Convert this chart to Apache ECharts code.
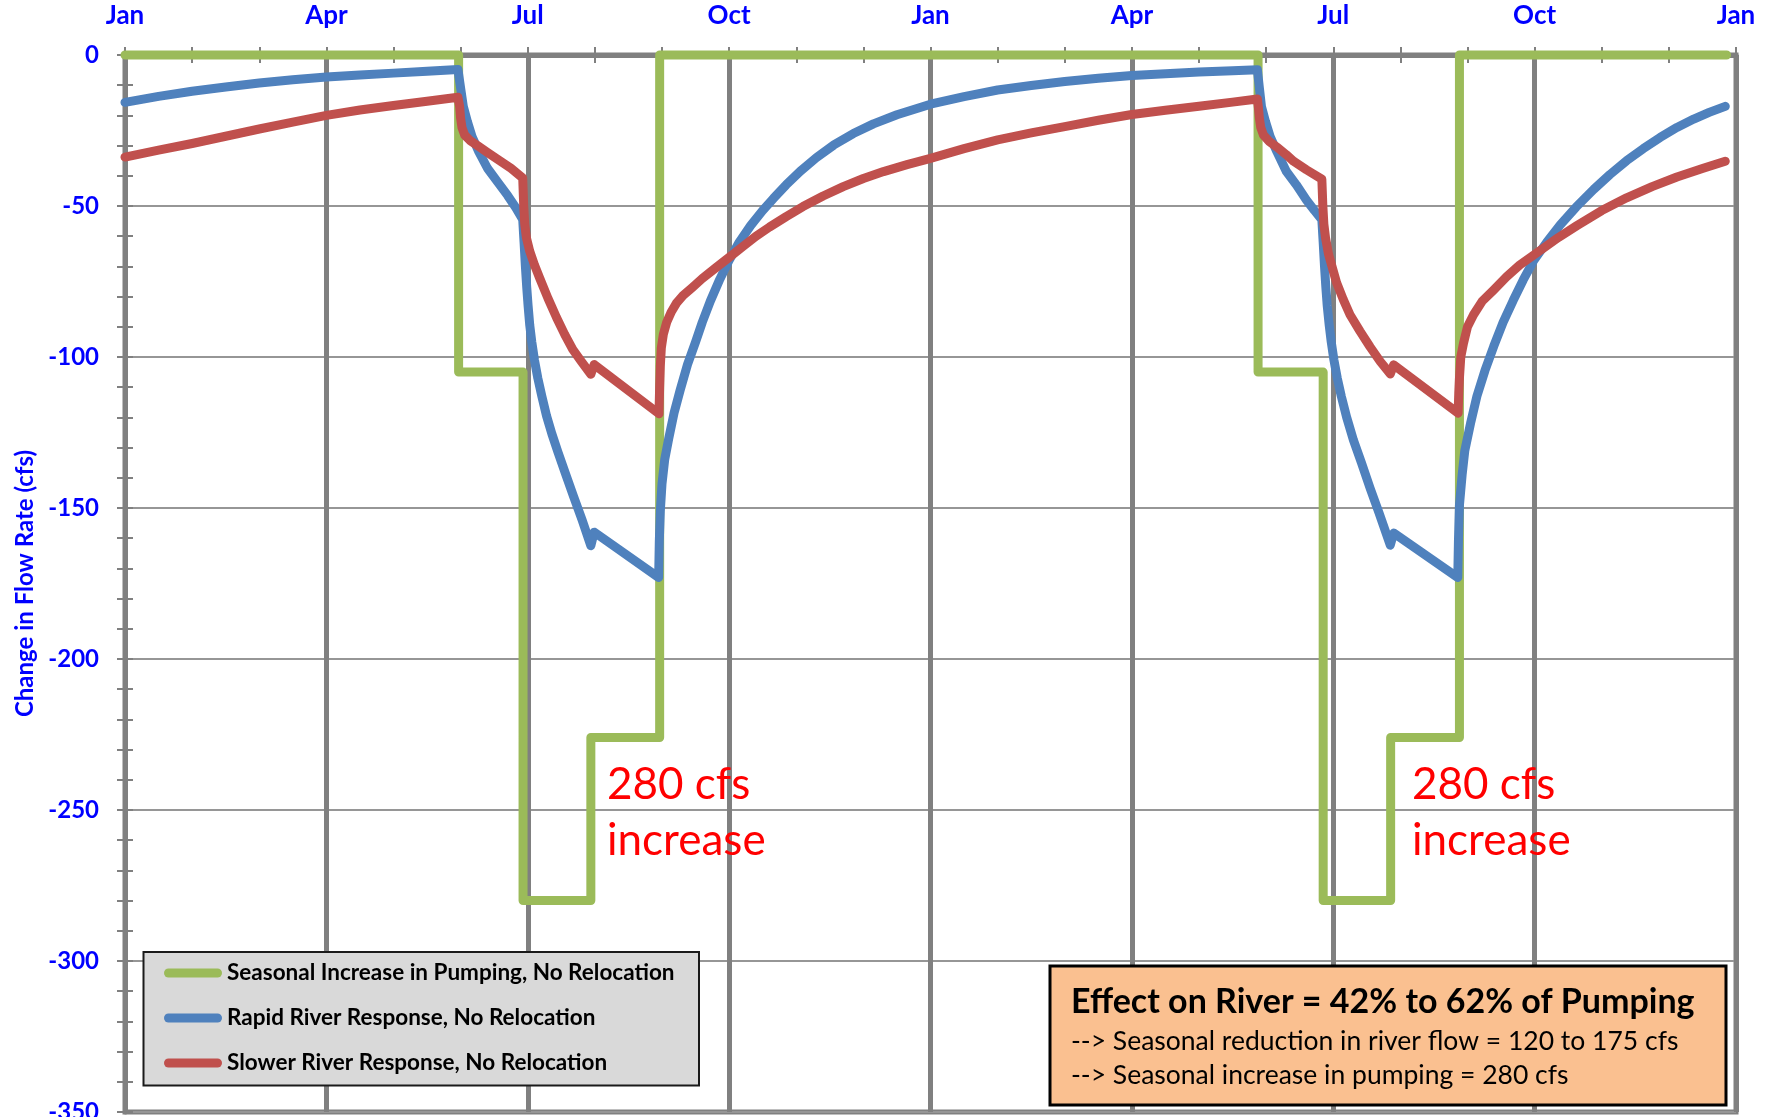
<!DOCTYPE html>
<html><head><meta charset="utf-8">
<script src="https://cdn.jsdelivr.net/npm/echarts@6/dist/echarts.min.js"></script>
<style>html,body{margin:0;padding:0;background:#fff;overflow:hidden}#c{width:1771px;height:1117px}</style>
</head><body><div id="c"></div>
<script>
// x values are months since the first January (0..24)
const tickLabels = ['Jan','Apr','Jul','Oct','Jan','Apr','Jul','Oct','Jan'];
const seriesNames = ['Seasonal Increase in Pumping, No Relocation','Rapid River Response, No Relocation','Slower River Response, No Relocation'];

const pumpingData = [
  [0,0],[4.97,0],[4.97,-105],[5.93,-105],[5.93,-280],[6.94,-280],[6.94,-226],[7.965,-226],[7.965,0],
  [16.88,0],[16.88,-105],[17.85,-105],[17.85,-280],[18.855,-280],[18.855,-226],[19.88,-226],[19.88,0],[23.86,0]
];

const rapidData = [
  [0,-15.7],[0.5,-13.7],[1,-12.0],[1.5,-10.6],[2,-9.3],[2.5,-8.2],[3,-7.3],[3.5,-6.6],[4,-6.0],[4.5,-5.4],[4.96,-4.8],
  [5.0,-11],[5.04,-17],[5.1,-22],[5.17,-27],[5.27,-32],[5.4,-37.5],[5.55,-42],[5.7,-46.5],[5.82,-50.5],[5.925,-54.5],
  [5.945,-62],[5.965,-70],[5.985,-77],[6.005,-83],[6.03,-89.5],[6.06,-95],[6.1,-101],[6.15,-107],[6.21,-113],[6.28,-119.5],[6.36,-125.5],[6.45,-131.5],[6.56,-138.5],[6.68,-146],[6.81,-154],[6.94,-162.5],
  [6.99,-158],[7.95,-173],
  [7.96,-161],[7.975,-151],[8.0,-142],[8.04,-134],[8.1,-127],[8.18,-118.5],[8.27,-111],[8.38,-102.5],[8.5,-95],[8.6,-88.5],[8.72,-81.5],[8.86,-74.3],[9.0,-68],[9.15,-62],[9.32,-56.5],[9.5,-51.5],[9.66,-47.5],[9.85,-43],[10.06,-38.5],[10.3,-34],[10.56,-29.8],[10.85,-26],[11.15,-22.8],[11.5,-19.8],[12.0,-16.3],
  [12.5,-13.8],[13,-11.6],[13.5,-10.1],[14,-8.8],[14.5,-7.7],[15,-6.8],[15.5,-6.2],[16,-5.6],[16.5,-5.2],[16.87,-4.9],
  [16.9,-11],[16.93,-17],[16.99,-22],[17.06,-27],[17.16,-32],[17.3,-38.5],[17.45,-43],[17.6,-48],[17.72,-51.5],[17.83,-54.5],
  [17.85,-62],[17.87,-70],[17.89,-77],[17.91,-83],[17.94,-89.5],[17.97,-95],[18.01,-101],[18.06,-107],[18.12,-113],[18.2,-120],[18.3,-127.5],[18.42,-135],[18.55,-143.5],[18.68,-151.5],[18.85,-162.3],
  [18.9,-158.3],[19.855,-173],
  [19.865,-161],[19.88,-149],[19.92,-139],[19.96,-131],[20.05,-121.5],[20.14,-113],[20.26,-104.5],[20.39,-96.5],[20.53,-88.5],[20.68,-81.3],[20.83,-74.5],[20.98,-68.3],[21.18,-62],[21.38,-56.3],[21.62,-50.3],[21.88,-44.5],[22.12,-39.6],[22.37,-35],[22.62,-31],[22.87,-27.3],[23.12,-24],[23.37,-21.2],[23.6,-19],[23.84,-17]
];

const slowerData = [
  [0,-33.8],[0.5,-31.5],[1,-29.3],[1.5,-26.9],[2,-24.5],[2.5,-22.2],[3,-20.0],[3.5,-18.2],[4,-16.7],[4.5,-15.3],[4.96,-14.0],
  [4.985,-17],[5.0,-21],[5.02,-24],[5.06,-26.5],[5.15,-28.5],[5.25,-30],[5.4,-32.3],[5.55,-34.5],[5.75,-37.5],[5.925,-40.7],
  [5.94,-50],[5.955,-56],[5.98,-60.5],[6.03,-65],[6.1,-69.5],[6.18,-74],[6.3,-80.5],[6.43,-87],[6.55,-92.5],[6.67,-97.5],[6.8,-101.5],[6.94,-105.7],
  [6.99,-102.5],[7.955,-118.8],
  [7.965,-110],[7.975,-103],[7.99,-97],[8.02,-92.5],[8.07,-88.5],[8.14,-85],[8.22,-82],[8.32,-79.5],[8.45,-77],[8.6,-74],[8.8,-70.5],[9.0,-67],[9.2,-63.5],[9.4,-60],[9.6,-57],[9.85,-53.5],[10.1,-50.2],[10.4,-46.7],[10.7,-43.6],[11.0,-40.9],[11.3,-38.6],[11.65,-36.3],[12,-34.2],
  [12.5,-31],[13,-28.1],[13.5,-25.8],[14,-23.7],[14.5,-21.6],[15,-19.7],[15.5,-18.3],[16,-17.0],[16.5,-15.6],[16.87,-14.6],
  [16.885,-17.5],[16.9,-21],[16.92,-24],[16.96,-26.5],[17.04,-28.5],[17.16,-30.5],[17.3,-33],[17.41,-35.2],[17.6,-38],[17.83,-41.1],
  [17.845,-50],[17.86,-56],[17.885,-60.5],[17.93,-66],[18.05,-75.4],[18.15,-81],[18.25,-86],[18.4,-91.5],[18.55,-96.7],[18.7,-101.5],[18.85,-105.6],
  [18.9,-102.6],[19.86,-118.6],
  [19.87,-112],[19.88,-107],[19.9,-100],[19.94,-95.5],[20.0,-90],[20.09,-86],[20.22,-81.5],[20.39,-77.8],[20.58,-73.5],[20.78,-69.5],[21.08,-64.8],[21.35,-60.5],[21.63,-56.5],[22.0,-51.5],[22.37,-47.3],[22.75,-43.6],[23.12,-40.4],[23.5,-37.6],[23.84,-35.2]
];

const colors = ['#9BBB59','#4F81BD','#C0504D'];
const annotationLines = ['280 cfs','increase'];
const boxTitle = 'Effect on River = 42% to 62% of Pumping';
const boxLines = ['--> Seasonal reduction in river flow = 120 to 175 cfs','--> Seasonal increase in pumping = 280 cfs'];

const chart = echarts.init(document.getElementById('c'), null, {renderer:'canvas', width:1771, height:1117});
const FONT = 'Lato';
const AXIS_BLUE = '#0000FF';
const GRAYDARK = '#808080';

function mkSeries(name, data, color){
  return {
    name, type:'line', data, xAxisIndex:0, yAxisIndex:0,
    showSymbol:false, symbol:'none', clip:false, animation:false,
    lineStyle:{color, width:9, cap:'round', join:'round'},
    itemStyle:{color}
  };
}

const option = {
  animation:false,
  color: colors,
  grid:{left:125, top:55, right:35, bottom:5, containLabel:false, outerBoundsMode:'none',
    show:true, borderColor:GRAYDARK, borderWidth:5, backgroundColor:'transparent'},
  xAxis:[{
    type:'value', position:'top', min:0, max:24, interval:3,
    axisLine:{show:true, onZero:false, lineStyle:{color:GRAYDARK, width:5}},
    axisTick:{show:true, inside:false, length:8, lineStyle:{color:GRAYDARK, width:2}},
    minorTick:{show:true, splitNumber:3, length:8, lineStyle:{color:GRAYDARK, width:2}},
    axisLabel:{show:true, margin:26, color:AXIS_BLUE, fontWeight:'bold', fontSize:26, fontFamily:FONT,
      showMinLabel:true, showMaxLabel:true,
      formatter:(v)=>tickLabels[Math.round(v/3)]},
    splitLine:{show:true, lineStyle:{color:GRAYDARK, width:5}}
  },{
    type:'value', position:'top', min:0, max:24, interval:3,
    axisLine:{show:false}, axisLabel:{show:false}, splitLine:{show:false},
    axisTick:{show:true, inside:true, length:8, lineStyle:{color:GRAYDARK, width:2}},
    minorTick:{show:true, splitNumber:3, length:8, lineStyle:{color:GRAYDARK, width:2}}
  }],
  yAxis:[{
    type:'value', position:'left', min:-350, max:0, interval:50,
    name:'Change in Flow Rate (cfs)', nameLocation:'middle', nameRotate:90, nameGap:87,
    nameTextStyle:{color:AXIS_BLUE, fontWeight:'bold', fontSize:24, fontFamily:FONT},
    axisLine:{show:true, onZero:false, lineStyle:{color:GRAYDARK, width:5}},
    axisTick:{show:true, inside:false, length:8, lineStyle:{color:GRAYDARK, width:2}},
    minorTick:{show:true, splitNumber:5, length:8, lineStyle:{color:GRAYDARK, width:2}},
    axisLabel:{margin:26, color:AXIS_BLUE, fontWeight:'bold', fontSize:24, fontFamily:FONT, showMinLabel:true, showMaxLabel:true},
    splitLine:{show:true, lineStyle:{color:'#969696', width:2}}
  },{
    type:'value', position:'left', min:-350, max:0, interval:50,
    axisLine:{show:false}, axisLabel:{show:false}, splitLine:{show:false},
    axisTick:{show:true, inside:true, length:8, lineStyle:{color:GRAYDARK, width:2}},
    minorTick:{show:true, splitNumber:5, length:8, lineStyle:{color:GRAYDARK, width:2}}
  }],
  legend:{
    show:true, orient:'vertical', left:164, top:961, padding:0, itemGap:21,
    itemWidth:58, itemHeight:9, z:30,
    icon:'path://M4.5 0H53.5A4.5 4.5 0 0 1 53.5 9H4.5A4.5 4.5 0 0 1 4.5 0Z',
    textStyle:{color:'#000', fontWeight:'bold', fontSize:22.5, fontFamily:FONT, lineHeight:24},
    data: seriesNames, selectedMode:false
  },
  graphic:[
    {type:'rect', z:20, shape:{x:143.5, y:952, width:555.5, height:133.5},
      style:{fill:'#D9D9D9', stroke:'#1a1a1a', lineWidth:2}},
    {type:'rect', z:20, shape:{x:1050, y:966, width:676, height:139},
      style:{fill:'#FAC090', stroke:'#000', lineWidth:3}},
    {type:'text', z:21, x:1071, y:1002, style:{text:boxTitle, fill:'#000', font:'bold 34px Lato', textVerticalAlign:'middle', textAlign:'left'}},
    {type:'text', z:21, x:1071, y:1041, style:{text:boxLines[0], fill:'#000', font:'26.5px Lato', textVerticalAlign:'middle', textAlign:'left'}},
    {type:'text', z:21, x:1071, y:1075, style:{text:boxLines[1], fill:'#000', font:'26.5px Lato', textVerticalAlign:'middle', textAlign:'left'}},
    {type:'text', z:21, x:607, y:785, style:{text:annotationLines[0], fill:'#FF0000', font:'44px Lato', textVerticalAlign:'middle', textAlign:'left'}},
    {type:'text', z:21, x:607, y:841, style:{text:annotationLines[1], fill:'#FF0000', font:'44px Lato', textVerticalAlign:'middle', textAlign:'left'}},
    {type:'text', z:21, x:1412, y:785, style:{text:annotationLines[0], fill:'#FF0000', font:'44px Lato', textVerticalAlign:'middle', textAlign:'left'}},
    {type:'text', z:21, x:1412, y:841, style:{text:annotationLines[1], fill:'#FF0000', font:'44px Lato', textVerticalAlign:'middle', textAlign:'left'}}
  ],
  series:[
    mkSeries(seriesNames[0], pumpingData, colors[0]),
    mkSeries(seriesNames[1], rapidData, colors[1]),
    mkSeries(seriesNames[2], slowerData, colors[2])
  ]
};
chart.setOption(option);
</script>
</body></html>
